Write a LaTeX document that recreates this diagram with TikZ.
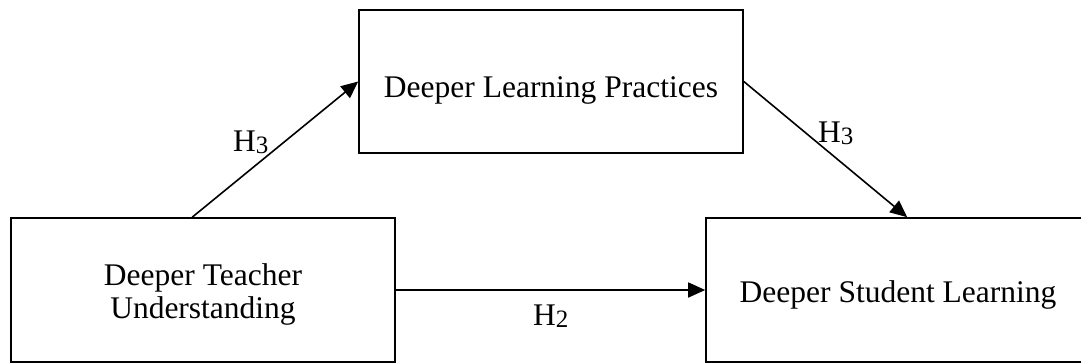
\documentclass[tikz,border=0pt]{standalone}
\usepackage{fontspec}
\setmainfont{Liberation Serif}
\usetikzlibrary{arrows.meta,calc}
\newcommand{\hsub}[1]{H{\fontsize{25}{25}\selectfont\raisebox{-2.4pt}{#1}}}
\begin{document}
\begin{tikzpicture}[x=1pt,y=-1pt,
  box/.style={draw=black,line width=1.6pt,minimum width=#1,inner sep=0pt},
  box/.default=384pt,
  lbl/.style={anchor=base,inner sep=0pt,font=\fontsize{31.5}{33}\selectfont},
  hyp/.style={anchor=base west,inner sep=0pt,font=\fontsize{31.5}{33}\selectfont},
  conn/.style={line width=1.6pt,-{Triangle[length=17pt,width=15pt]}}]
\useasboundingbox (0,0) rectangle (1081,362);
\begin{scope}
\clip (0,0) rectangle (1081,362);
% boxes
\node[box=384pt,minimum height=143pt] (dlp) at (551,81.5) {};
\node[box=384pt,minimum height=144pt] (dtu) at (203,290) {};
\node[box=384pt,minimum height=144pt] (dsl) at (898,290) {};
% texts
\node[lbl] (tdlp) at (551,97) {Deeper Learning Practices};
\node[lbl] (tdtu1) at (203,285) {Deeper Teacher};
\node[lbl] (tdtu2) at (203,318) {Understanding};
\node[lbl] (tdsl) at (898,302) {Deeper Student Learning};
% connectors
\draw[conn] ($(dtu.north west)+(182,0)$) -- (dlp.west);
\draw[conn] (dlp.east) -- ($(dsl.north west)+(202,0)$);
\draw[conn] (dtu.east) -- (dsl.west);
% labels
\node[hyp] (h3a) at (233,151) {\hsub{3}};
\node[hyp] (h3b) at (818,142) {\hsub{3}};
\node[hyp] (h2) at (533,325) {\hsub{2}};
\end{scope}
\end{tikzpicture}
\end{document}
